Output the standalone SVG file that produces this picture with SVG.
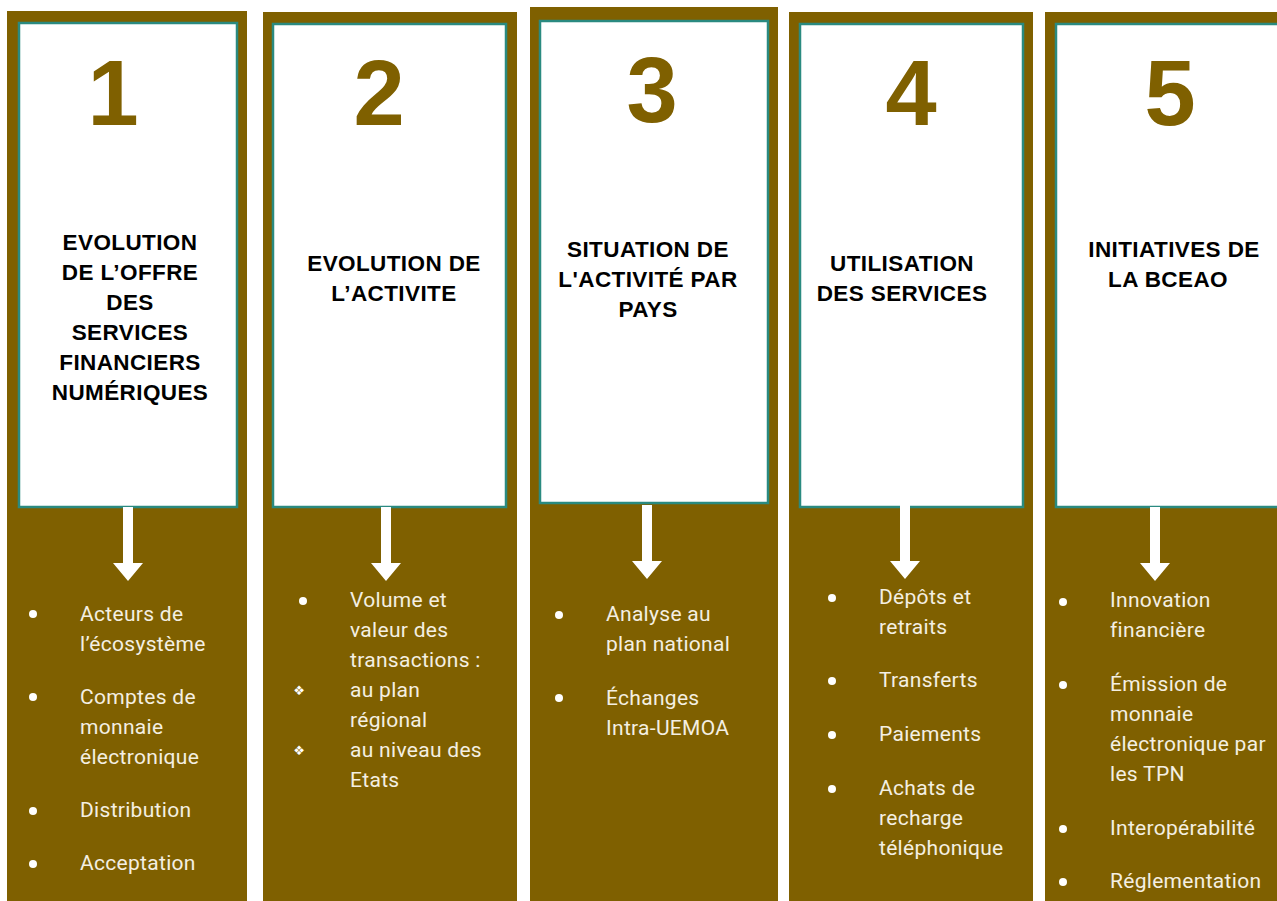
<svg xmlns="http://www.w3.org/2000/svg" width="1277" height="901" viewBox="0 0 1277 901">
  <defs>
    <style>
      .frame { fill: #7f6000; }
      .card { fill: #ffffff; stroke: #2a8a80; stroke-width: 2.5; }
      .num { font-family: "Liberation Sans", Arial, sans-serif; font-weight: bold; font-size: 92px; fill: #7f6000; text-anchor: middle; }
      .title { font-family: "Liberation Sans", Arial, sans-serif; font-weight: bold; font-size: 22.5px; fill: #000000; text-anchor: middle; letter-spacing: 0.4px; }
      .item { font-family: Roboto, "Liberation Sans", sans-serif; font-size: 21px; fill: #f4efe2; letter-spacing: 0.3px; }
      .dot { fill: #ffffff; }
      .dia { font-family: "DejaVu Sans", sans-serif; font-size: 13px; fill: #ffffff; text-anchor: middle; }
      .arrow { fill: #ffffff; }
    </style>
    <path id="arrow" d="M -5 0 L 5 0 L 5 56 L 15 56 L 0 74 L -15 56 L -5 56 Z"/>
  </defs>

  <rect width="1277" height="901" fill="#ffffff"/>

  <!-- column 1 -->
  <g id="col1">
    <rect class="frame" x="7" y="11" width="240" height="890"/>
    <rect class="card" x="19" y="23" width="218" height="484"/>
    <text class="num" x="113" y="125">1</text>
    <text class="title" x="130" y="250">EVOLUTION</text>
    <text class="title" x="130" y="280">DE L’OFFRE</text>
    <text class="title" x="130" y="310">DES</text>
    <text class="title" x="130" y="340">SERVICES</text>
    <text class="title" x="130" y="370">FINANCIERS</text>
    <text class="title" x="130" y="400">NUMÉRIQUES</text>
    <circle class="dot" cx="33" cy="614" r="4"/>
    <text class="item" x="80" y="621">Acteurs de</text>
    <text class="item" x="80" y="651">l’écosystème</text>
    <circle class="dot" cx="33" cy="697" r="4"/>
    <text class="item" x="80" y="704">Comptes de</text>
    <text class="item" x="80" y="734">monnaie</text>
    <text class="item" x="80" y="764">électronique</text>
    <circle class="dot" cx="33" cy="811" r="4"/>
    <text class="item" x="80" y="817">Distribution</text>
    <circle class="dot" cx="33" cy="864" r="4"/>
    <text class="item" x="80" y="870">Acceptation</text>
  </g>

  <!-- column 2 -->
  <g id="col2">
    <rect class="frame" x="263" y="12" width="254" height="889"/>
    <rect class="card" x="273" y="24" width="233" height="483"/>
    <text class="num" x="379" y="125">2</text>
    <text class="title" x="394" y="271">EVOLUTION DE</text>
    <text class="title" x="394" y="301">L’ACTIVITE</text>
    <circle class="dot" cx="303" cy="601" r="4"/>
    <text class="item" x="350" y="607">Volume et</text>
    <text class="item" x="350" y="637">valeur des</text>
    <text class="item" x="350" y="667">transactions :</text>
    <text class="dia" x="299" y="695">❖</text>
    <text class="item" x="350" y="697">au plan</text>
    <text class="item" x="350" y="727">régional</text>
    <text class="dia" x="299" y="755">❖</text>
    <text class="item" x="350" y="757">au niveau des</text>
    <text class="item" x="350" y="787">Etats</text>
  </g>

  <!-- column 3 -->
  <g id="col3">
    <rect class="frame" x="530" y="7" width="248" height="894"/>
    <rect class="card" x="540" y="21" width="228" height="482"/>
    <text class="num" x="652" y="122">3</text>
    <text class="title" x="648" y="257">SITUATION DE</text>
    <text class="title" x="648" y="287">L'ACTIVITÉ PAR</text>
    <text class="title" x="648" y="317">PAYS</text>
    <circle class="dot" cx="559" cy="615" r="4"/>
    <text class="item" x="606" y="621">Analyse au</text>
    <text class="item" x="606" y="651">plan national</text>
    <circle class="dot" cx="559" cy="698" r="4"/>
    <text class="item" x="606" y="705">Échanges</text>
    <text class="item" x="606" y="735">Intra-UEMOA</text>
  </g>

  <!-- column 4 -->
  <g id="col4">
    <rect class="frame" x="789" y="12" width="244" height="889"/>
    <rect class="card" x="800" y="24" width="223" height="483"/>
    <text class="num" x="911" y="125">4</text>
    <text class="title" x="902" y="271">UTILISATION</text>
    <text class="title" x="902" y="301">DES SERVICES</text>
    <circle class="dot" cx="832" cy="598" r="4"/>
    <text class="item" x="879" y="604">Dépôts et</text>
    <text class="item" x="879" y="634">retraits</text>
    <circle class="dot" cx="832" cy="681" r="4"/>
    <text class="item" x="879" y="687">Transferts</text>
    <circle class="dot" cx="832" cy="735" r="4"/>
    <text class="item" x="879" y="741">Paiements</text>
    <circle class="dot" cx="832" cy="789" r="4"/>
    <text class="item" x="879" y="795">Achats de</text>
    <text class="item" x="879" y="825">recharge</text>
    <text class="item" x="879" y="855">téléphonique</text>
  </g>

  <!-- column 5 -->
  <g id="col5">
    <rect class="frame" x="1045" y="12" width="240" height="889"/>
    <rect class="card" x="1056" y="24" width="240" height="483"/>
    <text class="num" x="1170" y="125">5</text>
    <text class="title" x="1174" y="257">INITIATIVES DE</text>
    <text class="title" x="1168" y="287">LA BCEAO</text>
    <circle class="dot" cx="1063" cy="602" r="4"/>
    <text class="item" x="1110" y="607">Innovation</text>
    <text class="item" x="1110" y="637">financière</text>
    <circle class="dot" cx="1063" cy="685" r="4"/>
    <text class="item" x="1110" y="691">Émission de</text>
    <text class="item" x="1110" y="721">monnaie</text>
    <text class="item" x="1110" y="751">électronique par</text>
    <text class="item" x="1110" y="781">les TPN</text>
    <circle class="dot" cx="1063" cy="829" r="4"/>
    <text class="item" x="1110" y="835">Interopérabilité</text>
    <circle class="dot" cx="1063" cy="882" r="4"/>
    <text class="item" x="1110" y="888">Réglementation</text>
  </g>

  <!-- downward arrows from each card to its list -->
  <g id="connectors" class="arrow">
    <use href="#arrow" x="128" y="507"/>
    <use href="#arrow" x="386" y="507"/>
    <use href="#arrow" x="647" y="505"/>
    <use href="#arrow" x="905" y="505"/>
    <use href="#arrow" x="1155" y="507"/>
  </g>
</svg>
